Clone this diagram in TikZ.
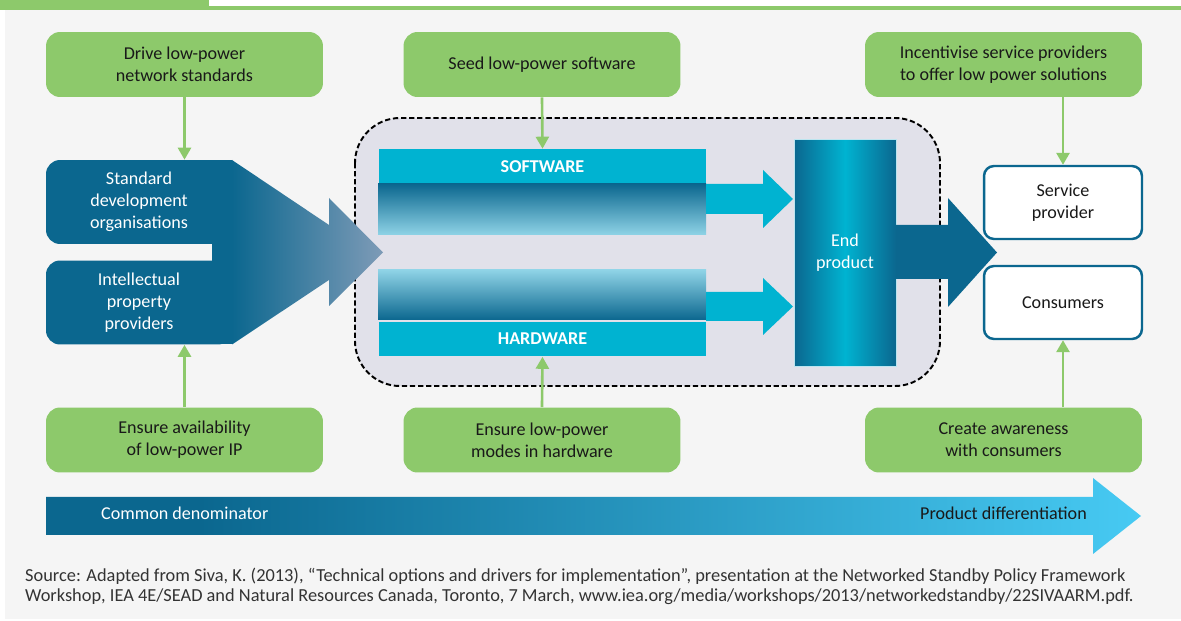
\documentclass[tikz,border=0pt]{standalone}
\usepackage{fontspec}
\setmainfont{Carlito}
\usepackage{tikz}
\usetikzlibrary{arrows.meta}

\definecolor{pagegray}{HTML}{F5F5F5}
\definecolor{leaf}{HTML}{8DC96B}
\definecolor{deepblue}{HTML}{0B678F}
\definecolor{aqua}{HTML}{00B3D1}
\definecolor{lavender}{HTML}{E1E1EA}
\definecolor{slateblue}{HTML}{7E9BB7}
\definecolor{paleaqua}{HTML}{8FD3E6}
\definecolor{skyaqua}{HTML}{47CAF3}

% shading of the end product block: dark - cyan - dark
\pgfdeclarehorizontalshading{endgrad}{100bp}{rgb(0bp)=(0.043,0.404,0.561); rgb(25bp)=(0.043,0.404,0.561); rgb(50bp)=(0,0.702,0.820); rgb(75bp)=(0.043,0.404,0.561); rgb(100bp)=(0.043,0.404,0.561)}
% shading of the bottom arrow
\pgfdeclarehorizontalshading{spectrum}{100bp}{rgb(0bp)=(0.043,0.404,0.561); rgb(32bp)=(0.043,0.404,0.561); rgb(75bp)=(0.278,0.792,0.953); rgb(100bp)=(0.278,0.792,0.953)}

\begin{document}
\begin{tikzpicture}[x=0.02cm, y=-0.02cm, font=\fontsize{10.3}{12.6}\selectfont,
	policy/.style={fill=leaf, rounded corners=0.28cm, minimum width=5.54cm, minimum height=1.3cm, align=center, text=black!90},
	leftbox/.style={fill=deepblue, rounded corners=0.28cm, minimum width=3.72cm, minimum height=1.68cm, align=center, text=white},
	actor/.style={draw=deepblue, line width=1.4pt, fill=white, rounded corners=0.2cm, minimum width=3.16cm, minimum height=1.46cm, align=center, text=black!90},
	layer/.style={fill=aqua, minimum width=6.54cm, minimum height=0.7cm, text=white, font=\fontsize{10.3}{12.6}\selectfont\bfseries},
	push/.style={leaf, line width=1.5pt, -{Triangle[length=6.8pt, width=7.4pt]}},
	]
	\useasboundingbox (0,0) rectangle (1181,621);
	% Page
	\fill[pagegray] (5,10.5) rectangle (1181,619);
	\fill[leaf] (0,0) rectangle (209,10.5);
	\fill[leaf] (209,6) rectangle (1181,10.5);
	
	% --- Policy drivers ---
	\node[policy] (drive) at (184.5,64.5) {Drive low-power\\network standards};
	\node[policy] (seed) at (542,64.5) {Seed low-power software};
	\node[policy] (incent) at (1003.5,64.5) {Incentivise service providers\\to offer low power solutions};
	\node[policy] (avail) at (184.5,440) {Ensure availability\\of low-power IP};
	\node[policy] (modes) at (542,440) {Ensure low-power\\modes in hardware};
	\node[policy] (aware) at (1003.5,440) {Create awareness\\with consumers};
	
	% --- Left actors ---
	\fill[deepblue] (212,243) rectangle (232,262);
	\fill[deepblue] (139,160) rectangle (232,244);
	\fill[deepblue] (139,261) rectangle (232,344.5);
	\node[leftbox] (sdo) at (139,202) {Standard\\development\\organisations};
	\node[leftbox] (ipp) at (139,302.5) {Intellectual\\property\\providers};
	
	% --- Device box ---
	\draw[fill=lavender, line width=1.1pt, dash pattern=on 3pt off 1.6pt, rounded corners=0.9cm] (355,118) rectangle (940,386);
	% Big arrow into the device
	\shade[left color=deepblue, right color=slateblue] (232,160) -- (329,225) -- (329,198) -- (383,252.5) -- (329,306) -- (329,280) -- (232,344.5) -- cycle;
	% Software and hardware layers
	\node[layer] (software) at (542.5,166.5) {SOFTWARE};
	\shade[top color=deepblue, bottom color=paleaqua] (378,184) rectangle (706,235);
	\shade[top color=paleaqua, bottom color=deepblue] (378,270) rectangle (706,320);
	\node[layer] (hardware) at (542.5,339) {HARDWARE};
	\fill[aqua] (706,184) -- (763,184) -- (763,170) -- (793,199) -- (763,228) -- (763,214) -- (706,214) -- cycle;
	\fill[aqua] (706,292) -- (763,292) -- (763,278) -- (793,306.5) -- (763,335) -- (763,321) -- (706,321) -- cycle;
	% End product
	\node[shade, shading=endgrad, draw=paleaqua!60, line width=0.4pt, minimum width=2.04cm, minimum height=4.54cm, text=white, align=center] (endprod) at (845,252.5) {End\\product};
	\fill[deepblue] (896,225) -- (948,225) -- (948,198) -- (997,252.5) -- (948,307) -- (948,279) -- (896,279) -- cycle;
	
	% --- Right actors ---
	\node[actor] (service) at (1063,202.5) {Service\\provider};
	\node[actor] (consumers) at (1063,302.5) {Consumers};
	
	% Policy arrows
	\draw[push] (drive.south) -- (drive.south |- sdo.north);
	\draw[push] (seed.south) -- (software.north);
	\draw[push] (incent.south -| service.north) -- (service.north);
	\draw[push] (avail.north) -- (avail.north |- ipp.south);
	\draw[push] (modes.north) -- (hardware.south);
	\draw[push] (aware.north -| consumers.south) -- (consumers.south);
	
	% --- Bottom scale ---
	\shade[shading=spectrum] (46,497) -- (1093,497) -- (1093,478) -- (1141,516) -- (1093,554) -- (1093,535) -- (46,535) -- cycle;
	\node[anchor=west, text=white] (common) at (95,513) {Common denominator};
	\node[anchor=east, text=black!90] (differ) at (1093,513) {Product differentiation};
	
	% Source
	\node[anchor=base west, text=black!80, font=\fontsize{10.45}{12}\selectfont] (src1) at (19,582) {Source: Adapted from Siva, K. (2013), “Technical options and drivers for implementation”, presentation at the Networked Standby Policy Framework};
	\node[anchor=base west, text=black!80, font=\fontsize{10.45}{12}\selectfont] (src2) at (19,602) {Workshop, IEA 4E/SEAD and Natural Resources Canada, Toronto, 7 March, www.iea.org/media/workshops/2013/networkedstandby/22SIVAARM.pdf.};
\end{tikzpicture}
\end{document}
